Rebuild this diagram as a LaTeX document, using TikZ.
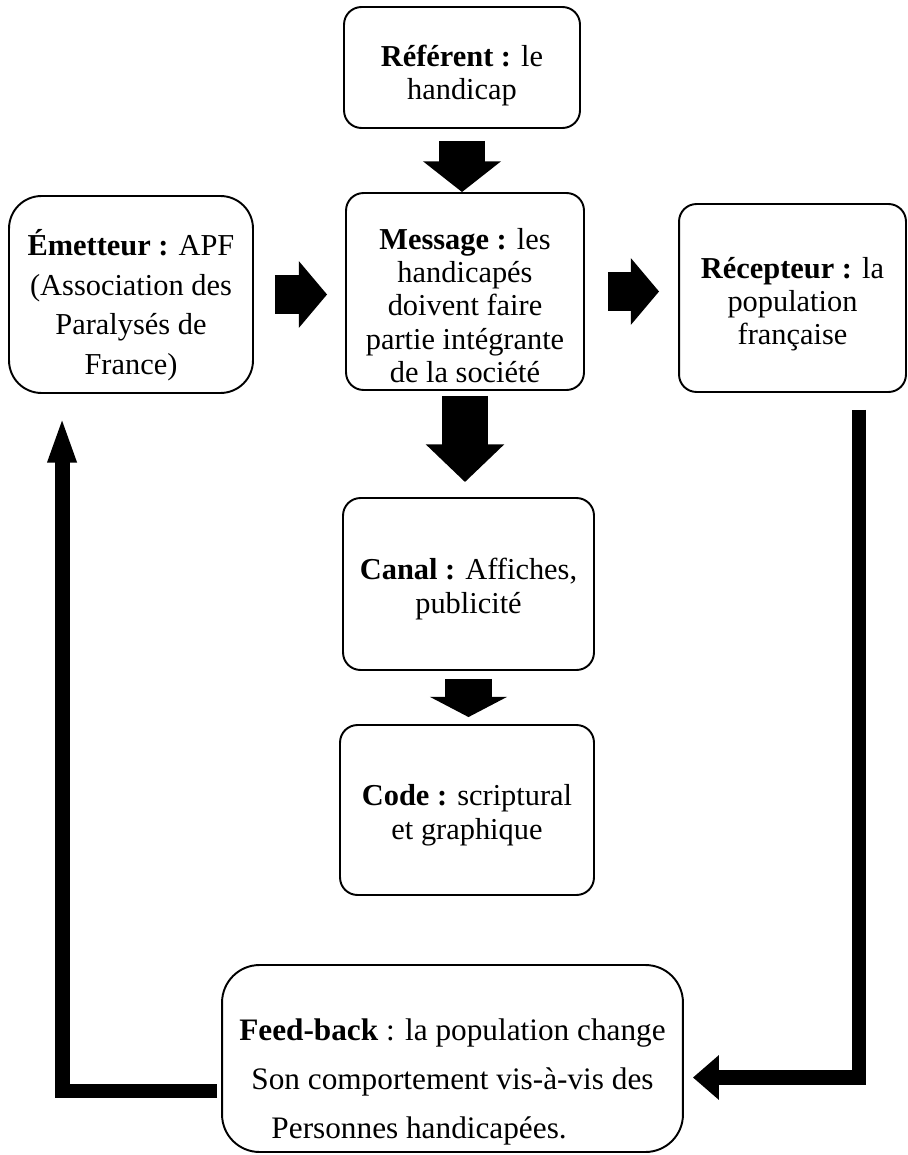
\documentclass[tikz,border=0pt]{standalone}
\usepackage{fontspec}
\setmainfont{Liberation Serif}
\usetikzlibrary{arrows.meta,positioning,calc}

\newcommand{\toppad}[1]{\rule{0pt}{#1}}

\tikzset{
  box/.style={draw, line width=1.1pt, rounded corners=0.35cm, align=center,
    font=\fontsize{17.3pt}{19pt}\selectfont},
  fatarrow/.style={line width=26.5pt, -{Triangle[width=43.5pt,length=#1]}},
  fatarrow/.default=17.5pt,
  sidearrow/.style={line width=22.7pt, -{Triangle[width=37pt,length=16pt]}},
  loopline/.style={line width=8.5pt}
}

\begin{document}
\begin{tikzpicture}[x=0.02cm, y=-0.02cm]
\useasboundingbox (0,0) rectangle (908,1155);

% boxes
\node[box, minimum width=4.72cm, minimum height=2.42cm] (ref) at (462,67.5)
  {\toppad{21pt}\textbf{Référent :} le\\handicap};
\node[box, rounded corners=0.65cm, minimum width=4.88cm, minimum height=3.94cm,
  font=\fontsize{17.3pt}{22.7pt}\selectfont] (em) at (131,294.5)
  {\toppad{27pt}\textbf{Émetteur :} APF\\(Association des\\Paralysés de\\France)};
\node[box, minimum width=4.76cm, minimum height=3.94cm] (msg) at (465,291.5)
  {\toppad{28pt}\textbf{Message :} les\\handicapés\\doivent faire\\partie intégrante\\de la société};
\node[box, minimum width=4.54cm, minimum height=3.76cm] (rec) at (792.5,298)
  {\toppad{19pt}\textbf{Récepteur :} la\\population\\française};
\node[box, minimum width=5.02cm, minimum height=3.44cm] (canal) at (468.5,584)
  {\toppad{18pt}\textbf{Canal :} Affiches,\\publicité};
\node[box, minimum width=5.08cm, minimum height=3.4cm] (code) at (467,810)
  {\toppad{18pt}\textbf{Code :} scriptural\\et graphique};
\node[box, rounded corners=0.75cm, minimum width=9.22cm, minimum height=3.74cm,
  font=\fontsize{17.8pt}{27.8pt}\selectfont] (fb) at (452.5,1058.5)
  {\toppad{39pt}\textbf{Feed-back} : la population change\\Son comportement vis-à-vis des\\Personnes handicapées.\hspace*{38pt}};

% block arrows
\draw[fatarrow, shorten <=0.24cm] (ref.south) -- (ref.south |- msg.north);
\draw[sidearrow, shorten <=0.42cm, shorten >=0.36cm] (em.east) -- (em.east -| msg.west);
\draw[sidearrow, shorten <=0.46cm, shorten >=0.38cm] (msg.east) -- (msg.east -| rec.west);
\draw[fatarrow=21.5pt, shorten <=0.1cm, shorten >=0.3cm] (msg.south) -- (msg.south |- canal.north);
\draw[fatarrow=11.5pt, shorten <=0.16cm, shorten >=0.14cm] (canal.south) -- (canal.south |- code.north);

% feed-back loop
\draw[loopline, -{Triangle[width=24.4pt,length=14.7pt]}, shorten <=0.34cm, shorten >=0.18cm]
  ([xshift=-0.96cm]rec.south east) |- ([yshift=-0.38cm]fb.east);
\draw[loopline, -{Triangle[width=14.7pt,length=26.6pt]}, shorten <=0.08cm, shorten >=0.44cm]
  ([yshift=-0.65cm]fb.west) -| ([xshift=1.08cm]em.south west);
\end{tikzpicture}
\end{document}
